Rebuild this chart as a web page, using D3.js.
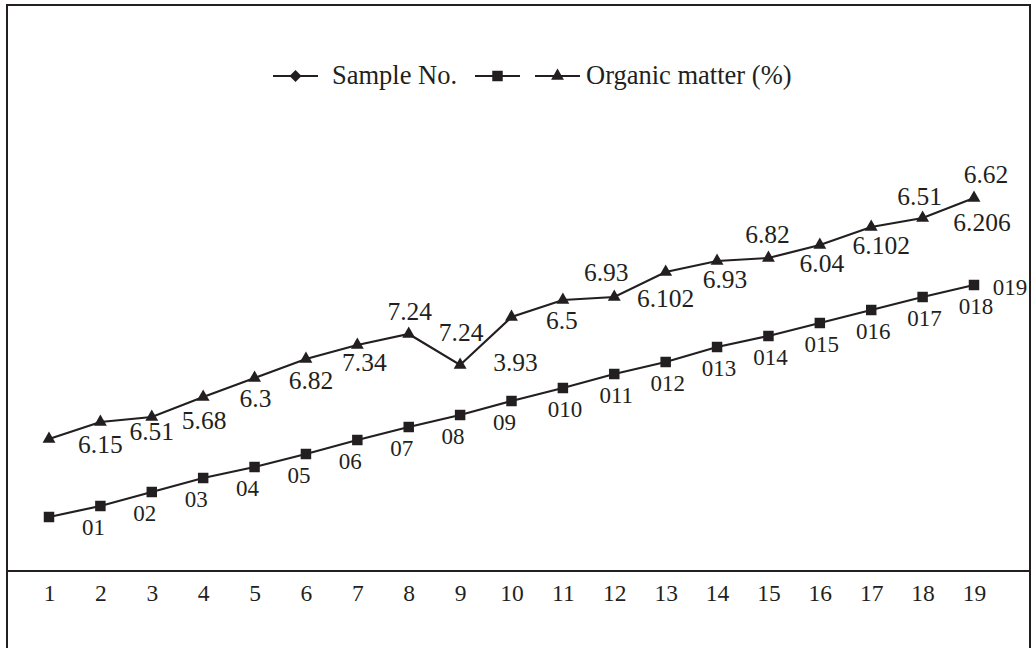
<!DOCTYPE html>
<html lang="en">
<head>
<meta charset="UTF-8">
<title>Sample No. and organic matter</title>
<script src="https://cdn.jsdelivr.net/npm/d3@7.8.5/dist/d3.min.js"></script>
<style>
  body { margin: 0; background: #fff; }
  svg { display: block; font-family: "Liberation Serif", "Times New Roman", serif; }
  .series-line { fill: none; stroke: #231f20; stroke-width: 2.2px; }
  text { fill: #231f20; }
</style>
</head>
<body>
<svg id="chart" width="1032" height="648"></svg>
<script>
// categories along the bottom
const samples = ["1", "2", "3", "4", "5", "6", "7", "8", "9", "10",
                 "11", "12", "13", "14", "15", "16", "17", "18", "19"];

// heights of the two plotted lines (no y axis is printed, so these are relative units)
const organicHeights = [13.2, 14.9, 15.4, 17.4, 19.3, 21.2, 22.6, 23.7, 20.6, 25.4,
                        27.1, 27.4, 29.9, 31.0, 31.3, 32.6, 34.4, 35.3, 37.3];
const sampleHeights = [5.4, 6.5, 7.9, 9.3, 10.4, 11.7, 13.1, 14.4, 15.6, 17.0,
                       18.3, 19.7, 20.9, 22.4, 23.5, 24.8, 26.1, 27.4, 28.6];

// data label texts, as printed
const organicLabels = ["6.15", "6.51", "5.68", "6.3", "6.82", "7.34", "7.24", "7.24", "3.93", "6.5",
                       "6.93", "6.102", "6.93", "6.82", "6.04", "6.102", "6.51", "6.62", "6.206"];
const sampleLabels = ["01", "02", "03", "04", "05", "06", "07", "08", "09", "010",
                      "011", "012", "013", "014", "015", "016", "017", "018", "019"];

const legendNames = ["Sample No.", "", "Organic matter (%)"];

// --- layout ---
const svg = d3.select("#chart");
const axisY = 571;

const x = d3.scalePoint().domain(samples).range([49, 974]);
const y = d3.scaleLinear().domain([0, 45]).range([axisY, axisY - 450]);

// outer frame (bottom edge falls outside the picture)
svg.append("rect")
    .attr("x", 7).attr("y", 5)
    .attr("width", 1023).attr("height", 680)
    .attr("fill", "none")
    .attr("stroke", "#231f20")
    .attr("stroke-width", 2);

// category axis
const xAxis = svg.append("g")
    .attr("transform", `translate(0,${axisY})`)
    .call(d3.axisBottom(x).tickSize(0));
xAxis.select(".domain").remove();
xAxis.selectAll("text")
    .attr("y", 30).attr("dy", null)
    .style("font-size", "23.5px")
    .style("font-family", "Liberation Serif")
    .attr("fill", "#231f20");

svg.append("line")
    .attr("x1", 6).attr("x2", 1030)
    .attr("y1", axisY).attr("y2", axisY)
    .attr("stroke", "#231f20")
    .attr("stroke-width", 2.2);

const line = d3.line()
    .x((d, i) => x(samples[i]))
    .y(d => y(d));

const triangle = d3.symbol().type(d3.symbolTriangle).size(72);
const square = d3.symbol().type(d3.symbolSquare).size(110);
const diamond = d3.symbol().type(d3.symbolSquare).size(72);

// organic matter line (triangles)
svg.append("path").datum(organicHeights)
    .attr("class", "series-line")
    .attr("d", line);
svg.append("g").selectAll("path")
    .data(organicHeights)
    .join("path")
    .attr("d", triangle)
    .attr("transform", (d, i) => `translate(${x(samples[i])},${y(d)})`)
    .attr("fill", "#231f20");

// sample line (squares)
svg.append("path").datum(sampleHeights)
    .attr("class", "series-line")
    .attr("d", line);
svg.append("g").selectAll("path")
    .data(sampleHeights)
    .join("path")
    .attr("d", square)
    .attr("transform", (d, i) => `translate(${x(samples[i])},${y(d)})`)
    .attr("fill", "#231f20");

// labels sit one point to the right of their own entry, as in the original
const pointFor = i => Math.min(i + 1, samples.length - 1);

// [dx, dy] nudges for the organic labels, relative to the point they sit at
const organicNudge = [[0, 31], [0, 23], [1, 32], [1, 29], [5, 30], [7, 26], [1, -14], [1, -24],
                      [4, 54], [-1, 29], [-8, -16], [0, 35], [8, 27], [-1, -15], [2, 27],
                      [10, 27], [-3, -13], [12, -15], [8, 33]];

svg.append("g").selectAll("text")
    .data(organicLabels)
    .join("text")
    .attr("x", (d, i) => x(samples[pointFor(i)]) + organicNudge[i][0])
    .attr("y", (d, i) => y(organicHeights[pointFor(i)]) + organicNudge[i][1])
    .attr("text-anchor", "middle")
    .style("font-size", "25.5px")
    .text(d => d);

svg.append("g").selectAll("text")
    .data(sampleLabels)
    .join("text")
    .attr("x", (d, i) => {
        const px = x(samples[pointFor(i)]);
        if (i === sampleLabels.length - 1) return px + 36;
        return px + (d.length === 2 ? -7 : 2);
    })
    .attr("y", (d, i) => {
        const py = y(sampleHeights[pointFor(i)]);
        return i === sampleLabels.length - 1 ? py + 10 : py + 29;
    })
    .attr("text-anchor", "middle")
    .style("font-size", "23px")
    .text(d => d);

// legend
const legendY = 76;
const legendItems = [
    { x: 273, gap: 14, sym: diamond, rotate: 45 },
    { x: 475, gap: 14, sym: square, rotate: 0 },
    { x: 535, gap: 6, sym: triangle, rotate: 0 }
];
const legend = svg.append("g");
legendItems.forEach((it, i) => {
    const g = legend.append("g");
    g.append("line")
        .attr("x1", it.x).attr("x2", it.x + 45)
        .attr("y1", legendY).attr("y2", legendY)
        .attr("stroke", "#231f20").attr("stroke-width", 2.2);
    g.append("path")
        .attr("d", it.sym)
        .attr("transform", `translate(${it.x + 22.5},${legendY}) rotate(${it.rotate})`)
        .attr("fill", "#231f20");
    if (legendNames[i]) {
        g.append("text")
            .attr("x", it.x + 45 + it.gap)
            .attr("y", legendY + 8)
            .style("font-size", "26.5px")
            .text(legendNames[i]);
    }
});
</script>
</body>
</html>
